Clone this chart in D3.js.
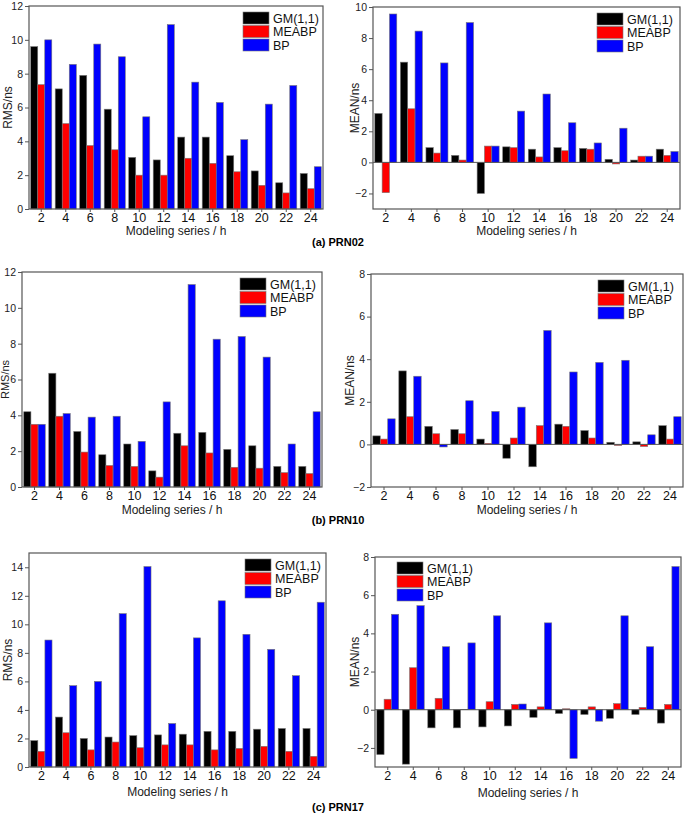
<!DOCTYPE html>
<html>
<head>
<meta charset="utf-8">
<script src="https://cdn.jsdelivr.net/npm/d3@7"></script>
<style>
  body { margin: 0; background: #fff; }
  text { font-family: "Liberation Sans", Arial, sans-serif; }
</style>
</head>
<body>
<svg id="chart" width="685" height="814"></svg>
<script>
// categories (modeling series in hours)
const hours = ["2", "4", "6", "8", "10", "12", "14", "16", "18", "20", "22", "24"];
const models = ["GM(1,1)", "MEABP", "BP"];
const colors = ["#000000", "#ff0000", "#0000ff"];

// PRN02
const rms02_gm = [9.6, 7.1, 7.9, 5.9, 3.05, 2.9, 4.25, 4.25, 3.15, 2.25, 1.55, 2.1];
const rms02_meabp = [7.35, 5.05, 3.75, 3.5, 2.0, 2.0, 3.0, 2.7, 2.2, 1.4, 0.95, 1.2];
const rms02_bp = [10.0, 8.55, 9.75, 9.0, 5.45, 10.9, 7.5, 6.3, 4.1, 6.2, 7.3, 2.5];
const mean02_gm = [3.15, 6.45, 0.95, 0.45, -2.0, 1.0, 0.85, 0.95, 0.9, 0.2, 0.15, 0.85];
const mean02_meabp = [-1.95, 3.45, 0.6, 0.15, 1.05, 0.95, 0.35, 0.75, 0.85, -0.1, 0.4, 0.45];
const mean02_bp = [9.55, 8.45, 6.4, 9.0, 1.05, 3.3, 4.4, 2.55, 1.25, 2.2, 0.4, 0.7];

// PRN10
const rms10_gm = [4.2, 6.35, 3.1, 1.8, 2.4, 0.9, 3.0, 3.05, 2.1, 2.3, 1.15, 1.15];
const rms10_meabp = [3.5, 3.95, 1.95, 1.2, 1.15, 0.55, 2.3, 1.9, 1.1, 1.05, 0.8, 0.75];
const rms10_bp = [3.5, 4.1, 3.9, 3.95, 2.55, 4.75, 11.3, 8.25, 8.4, 7.25, 2.4, 4.2];
const mean10_gm = [0.4, 3.45, 0.85, 0.7, 0.25, -0.65, -1.05, 0.95, 0.65, 0.1, 0.12, 0.88];
const mean10_meabp = [0.25, 1.3, 0.5, 0.5, 0.05, 0.3, 0.88, 0.85, 0.3, -0.05, -0.1, 0.25];
const mean10_bp = [1.2, 3.2, -0.12, 2.05, 1.55, 1.75, 5.35, 3.4, 3.85, 3.95, 0.45, 1.3];

// PRN17
const rms17_gm = [1.85, 3.5, 2.0, 2.1, 2.2, 2.25, 2.3, 2.5, 2.5, 2.65, 2.7, 2.7];
const rms17_meabp = [1.1, 2.4, 1.2, 1.75, 1.35, 1.55, 1.55, 1.2, 1.3, 1.45, 1.1, 0.75];
const rms17_bp = [8.9, 5.7, 6.0, 10.75, 14.05, 3.05, 9.05, 11.65, 9.3, 8.25, 6.4, 11.55];
const mean17_gm = [-2.35, -2.85, -0.95, -0.95, -0.9, -0.85, -0.4, -0.2, -0.25, -0.45, -0.25, -0.7];
const mean17_meabp = [0.55, 2.2, 0.6, 0.02, 0.42, 0.28, 0.15, 0.05, 0.15, 0.32, 0.12, 0.28];
const mean17_bp = [5.0, 5.45, 3.3, 3.5, 4.92, 0.3, 4.55, -2.55, -0.6, 4.92, 3.3, 7.5];

const captions = ["(a) PRN02", "(b) PRN10", "(c) PRN17"];

// panel frames (pixels) and y domains
const panels = [
  { x0: 29, x1: 323, y0: 6, y1: 209, dom: [0, 12], ticks: d3.range(0, 13, 2), label: "RMS/ns",
    series: [rms02_gm, rms02_meabp, rms02_bp], legend: [243, 12], titleY: 230, labelX: 8 },
  { x0: 373, x1: 680, y0: 7, y1: 209, dom: [-3, 10], ticks: d3.range(-2, 11, 2), label: "MEAN/ns",
    series: [mean02_gm, mean02_meabp, mean02_bp], legend: [597, 13], titleY: 230, labelX: 355 },
  { x0: 22, x1: 322, y0: 272, y1: 487, dom: [0, 12], ticks: d3.range(0, 13, 2), label: "RMS/ns",
    series: [rms10_gm, rms10_meabp, rms10_bp], legend: [240, 278], titleY: 509, labelX: 5 },
  { x0: 371, x1: 683, y0: 274, y1: 487, dom: [-2, 8], ticks: d3.range(-2, 9, 2), label: "MEAN/ns",
    series: [mean10_gm, mean10_meabp, mean10_bp], legend: [598, 280], titleY: 509, labelX: 350 },
  { x0: 29, x1: 326, y0: 553, y1: 767, dom: [0, 15], ticks: d3.range(0, 15, 2), label: "RMS/ns",
    series: [rms17_gm, rms17_meabp, rms17_bp], legend: [245, 559], titleY: 791, labelX: 8 },
  { x0: 375, x1: 681, y0: 557, y1: 767, dom: [-3, 8], ticks: d3.range(-2, 9, 2), label: "MEAN/ns",
    series: [mean17_gm, mean17_meabp, mean17_bp], legend: [397, 562], titleY: 792, labelX: 355 }
];

const svg = d3.select("#chart");
const axisColor = "#555";

panels.forEach(function (p) {
  const g = svg.append("g");

  const x = d3.scaleBand()
    .domain(hours)
    .range([p.x0, p.x1])
    .paddingInner(0.14)
    .paddingOuter(0.07);
  const xSub = d3.scaleBand()
    .domain(models)
    .range([0, x.bandwidth()]);
  const y = d3.scaleLinear()
    .domain(p.dom)
    .range([p.y1, p.y0]);

  // bars
  models.forEach(function (m, i) {
    g.selectAll(null)
      .data(p.series[i])
      .enter()
      .append("rect")
      .attr("x", (d, j) => x(hours[j]) + xSub(m))
      .attr("y", d => y(Math.max(0, d)))
      .attr("width", xSub.bandwidth())
      .attr("height", d => Math.abs(y(d) - y(0)))
      .attr("fill", colors[i])
      .attr("stroke", "#777")
      .attr("stroke-width", 0.6);
  });

  // zero line for MEAN panels
  if (p.dom[0] < 0) {
    g.append("line")
      .attr("x1", p.x0).attr("x2", p.x1)
      .attr("y1", y(0)).attr("y2", y(0))
      .attr("stroke", axisColor).attr("stroke-width", 1);
  }

  // frame
  g.append("rect")
    .attr("x", p.x0).attr("y", p.y0)
    .attr("width", p.x1 - p.x0).attr("height", p.y1 - p.y0)
    .attr("fill", "none")
    .attr("stroke", axisColor)
    .attr("stroke-width", 1.2);

  // y axis
  const yAxis = d3.axisLeft(y).tickValues(p.ticks).tickSize(4).tickPadding(2);
  const ya = g.append("g")
    .attr("transform", "translate(" + p.x0 + ",0)")
    .call(yAxis);
  ya.select(".domain").remove();
  ya.selectAll("line").attr("stroke", axisColor);
  ya.selectAll("text").attr("font-size", 10.5).attr("fill", "#222");

  // x axis
  const xAxis = d3.axisBottom(x).tickSize(3).tickPadding(1);
  const xa = g.append("g")
    .attr("transform", "translate(0," + p.y1 + ")")
    .call(xAxis);
  xa.select(".domain").remove();
  xa.selectAll("line").attr("stroke", axisColor);
  xa.selectAll("text").attr("font-size", 12.5).attr("fill", "#111");

  // axis titles
  g.append("text")
    .attr("x", (p.x0 + p.x1) / 2)
    .attr("y", p.titleY)
    .attr("dy", "0.38em")
    .attr("text-anchor", "middle")
    .attr("font-size", 12)
    .attr("fill", "#222")
    .text("Modeling series / h");

  g.append("text")
    .attr("transform", "translate(" + p.labelX + "," + ((p.y0 + p.y1) / 2) + ") rotate(-90)")
    .attr("dy", "0.36em")
    .attr("text-anchor", "middle")
    .attr("font-size", p.labelX < 7 ? 11 : 12)
    .attr("fill", "#222")
    .text(p.label);

  // legend
  const lg = g.append("g")
    .attr("transform", "translate(" + p.legend[0] + "," + p.legend[1] + ")");
  models.forEach(function (m, i) {
    lg.append("rect")
      .attr("x", 0).attr("y", i * 13.5)
      .attr("width", 26).attr("height", 12)
      .attr("fill", colors[i])
      .attr("stroke", "#777")
      .attr("stroke-width", 0.6);
    lg.append("text")
      .attr("x", 30).attr("y", i * 13.5 + 10.5)
      .attr("font-size", 12.5)
      .attr("fill", "#111")
      .text(m);
  });
});

// captions under each row
[242, 520, 807].forEach(function (cy, i) {
  svg.append("text")
    .attr("x", 338)
    .attr("y", cy)
    .attr("dy", "0.36em")
    .attr("text-anchor", "middle")
    .attr("font-size", 11)
    .attr("font-weight", "bold")
    .attr("fill", "#000")
    .text(captions[i]);
});
</script>
</body>
</html>
